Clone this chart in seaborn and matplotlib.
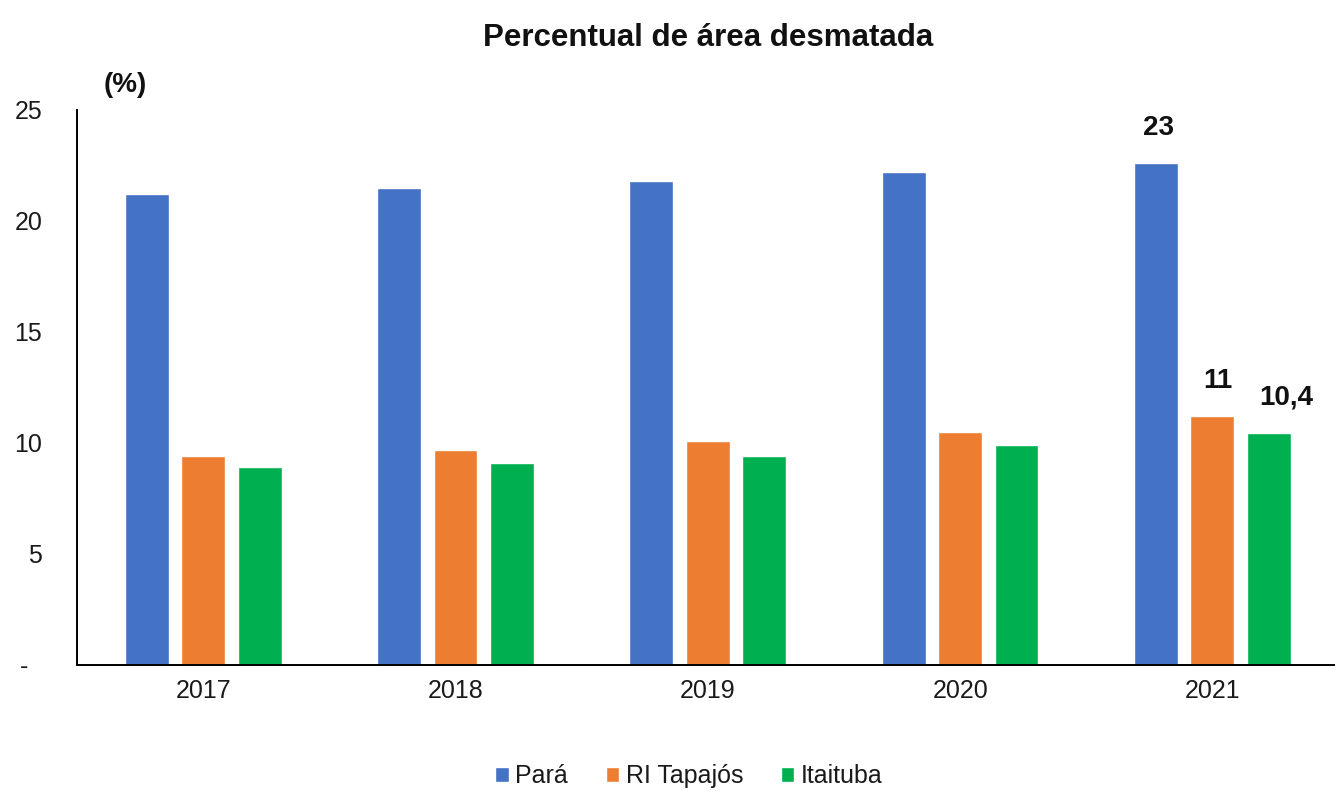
import pandas as pd
import matplotlib.pyplot as plt
import seaborn as sns

# Data
years = ["2017", "2018", "2019", "2020", "2021"]
para = [21.2, 21.5, 21.8, 22.2, 22.6]
ri_tapajos = [9.4, 9.7, 10.1, 10.5, 11.2]
itaituba = [8.9, 9.1, 9.4, 9.9, 10.45]
series_names = ["Pará", "RI Tapajós", "Itaituba"]
colors = ["#4472C4", "#ED7D31", "#00B050"]
last_labels = ["23", "11", "10,4"]

df = pd.DataFrame({
    "Ano": years * 3,
    "Valor": para + ri_tapajos + itaituba,
    "Serie": [series_names[0]] * 5 + [series_names[1]] * 5 + [series_names[2]] * 5,
})

sns.set_style("white")
plt.rcParams["font.family"] = ["Liberation Sans Narrow", "Liberation Sans", "DejaVu Sans"]

fig = plt.figure(figsize=(13.35, 7.91), dpi=100)
ax = fig.add_axes([0.0577, 0.1593, 0.945, 0.7017])

sns.barplot(data=df, x="Ano", y="Valor", hue="Serie", palette=colors,
            saturation=1, width=0.67, gap=0.22, ax=ax, legend=True)

ax.set_ylim(0, 25)
ax.set_xlim(-0.5, 4.5)
ax.set_yticks([0, 5, 10, 15, 20, 25])
ax.set_yticklabels(["-  ", "5", "10", "15", "20", "25"])
ax.set_xlabel("")
ax.set_ylabel("")

for side in ["top", "right"]:
    ax.spines[side].set_visible(False)
for side in ["left", "bottom"]:
    ax.spines[side].set_color("black")
    ax.spines[side].set_linewidth(1.4)

ax.tick_params(axis="y", direction="in", length=10, width=1.2, pad=25,
               labelsize=18, color="black", labelcolor="#1a1a1a")
ax.tick_params(axis="x", length=0, pad=10, labelsize=18, labelcolor="#1a1a1a")
ax.set_xticks([0.5, 1.5, 2.5, 3.5], minor=True)
ax.tick_params(axis="x", which="minor", direction="in", length=8, width=1.2, color="black")

# labels on the 2021 bars
offsets = [0.01, 0.02, 0.07]
for cont, lab, dx in zip(ax.containers, last_labels, offsets):
    bar = cont.patches[-1]
    cx = bar.get_x() + bar.get_width() / 2 + dx
    ax.text(cx, bar.get_height() + 1.0, lab, ha="center", va="bottom",
            fontsize=20, fontweight="bold", color="#111111")

ax.set_title("Percentual de área desmatada", fontsize=22.5, fontweight="bold",
             pad=46, color="#111111")
fig.text(0.094, 0.892, "(%)", fontsize=20, fontweight="bold", ha="center", va="center",
         color="#111111")

handles, labels = ax.get_legend_handles_labels()
ax.legend_.remove()
fig.legend(handles, labels, loc="lower center", bbox_to_anchor=(0.516, -0.025), ncol=3,
           frameon=False, fontsize=18, handlelength=0.55, handleheight=0.55,
           handletextpad=0.25, columnspacing=1.5, labelcolor="#1a1a1a")

fig.savefig("out.png", dpi=100)
